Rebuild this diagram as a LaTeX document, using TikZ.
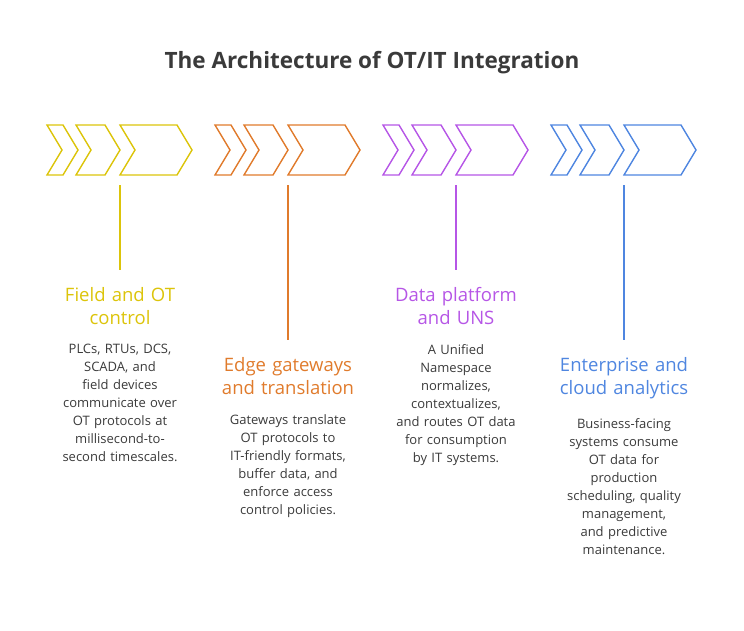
\documentclass[tikz,border=0pt]{standalone}
\usepackage{fontspec}
\setmainfont{Open Sans}
\usetikzlibrary{positioning}
\definecolor{cyel}{HTML}{DCC40A}
\definecolor{cora}{HTML}{E07B2C}
\definecolor{cpur}{HTML}{B656E6}
\definecolor{cblu}{HTML}{4F86E0}
\definecolor{ctxt}{HTML}{3A3A3A}
% one chevron: left x, right x, colour
\newcommand{\chev}[3]{\draw[#3, line width=1.4pt, line join=miter] (#1,125) -- (#2,125) -- (#2+15,150) -- (#2,175) -- (#1,175) -- (#1+15,150) -- cycle;}
\newcommand{\bodyfont}{\fontsize{13}{18}\selectfont\hyphenpenalty=10000\relax}
\begin{document}
\begin{tikzpicture}[
    x=1pt, y=-1pt,
    head/.style={font=\fontsize{18.5}{23.5}\selectfont, align=center, text width=170pt, inner sep=0pt},
    body/.style={font=\bodyfont, align=center, text width=124pt, text=ctxt, inner sep=0pt},
    link/.style={line width=1.4pt}
]
    \useasboundingbox (0,0) rectangle (744,630);
    \node[font=\bfseries\fontsize{22.5}{26}\selectfont, text=ctxt] (title) at (372,63) {The Architecture of OT/IT Integration};

    % === CHEVRONS ===
    \foreach \x/\c in {47/cyel, 215/cora, 383/cpur, 551/cblu} {
        \chev{\x}{\x+16}{\c}
        \chev{\x+29}{\x+58}{\c}
        \chev{\x+73}{\x+130}{\c}
    }
    \coordinate (c1) at (120,185);
    \coordinate (c2) at (288,185);
    \coordinate (c3) at (456,185);
    \coordinate (c4) at (624,185);

    % === STAGES ===
    \node[head, text=cyel, anchor=north] (h1) at (120,287) {Field and OT\\control};
    \node[body, below=19pt of h1] (b1) {PLCs, RTUs, DCS, SCADA, and field devices communicate over OT protocols at millisecond-to-second timescales.};

    \node[head, text=cora, anchor=north] (h2) at (288,357) {Edge gateways\\and translation};
    \node[body, below=19pt of h2] (b2) {Gateways translate OT protocols to IT-friendly formats, buffer data, and enforce access control policies.};

    \node[head, text=cpur, anchor=north] (h3) at (456,287) {Data platform\\and UNS};
    \node[body, below=19pt of h3] (b3) {A Unified Namespace normalizes, contextualizes, and routes OT data for consumption by IT systems.};

    \node[head, text=cblu, anchor=north] (h4) at (624,357) {Enterprise and\\cloud analytics};
    \node[body, below=19pt of h4] (b4) {Business-facing systems consume OT data for production scheduling, quality management, and predictive maintenance.};

    % === LINKS ===
    \draw[link, cyel] (c1) -- ([yshift=17pt]h1.north);
    \draw[link, cora] (c2) -- ([yshift=17pt]h2.north);
    \draw[link, cpur] (c3) -- ([yshift=17pt]h3.north);
    \draw[link, cblu] (c4) -- ([yshift=17pt]h4.north);
\end{tikzpicture}
\end{document}
